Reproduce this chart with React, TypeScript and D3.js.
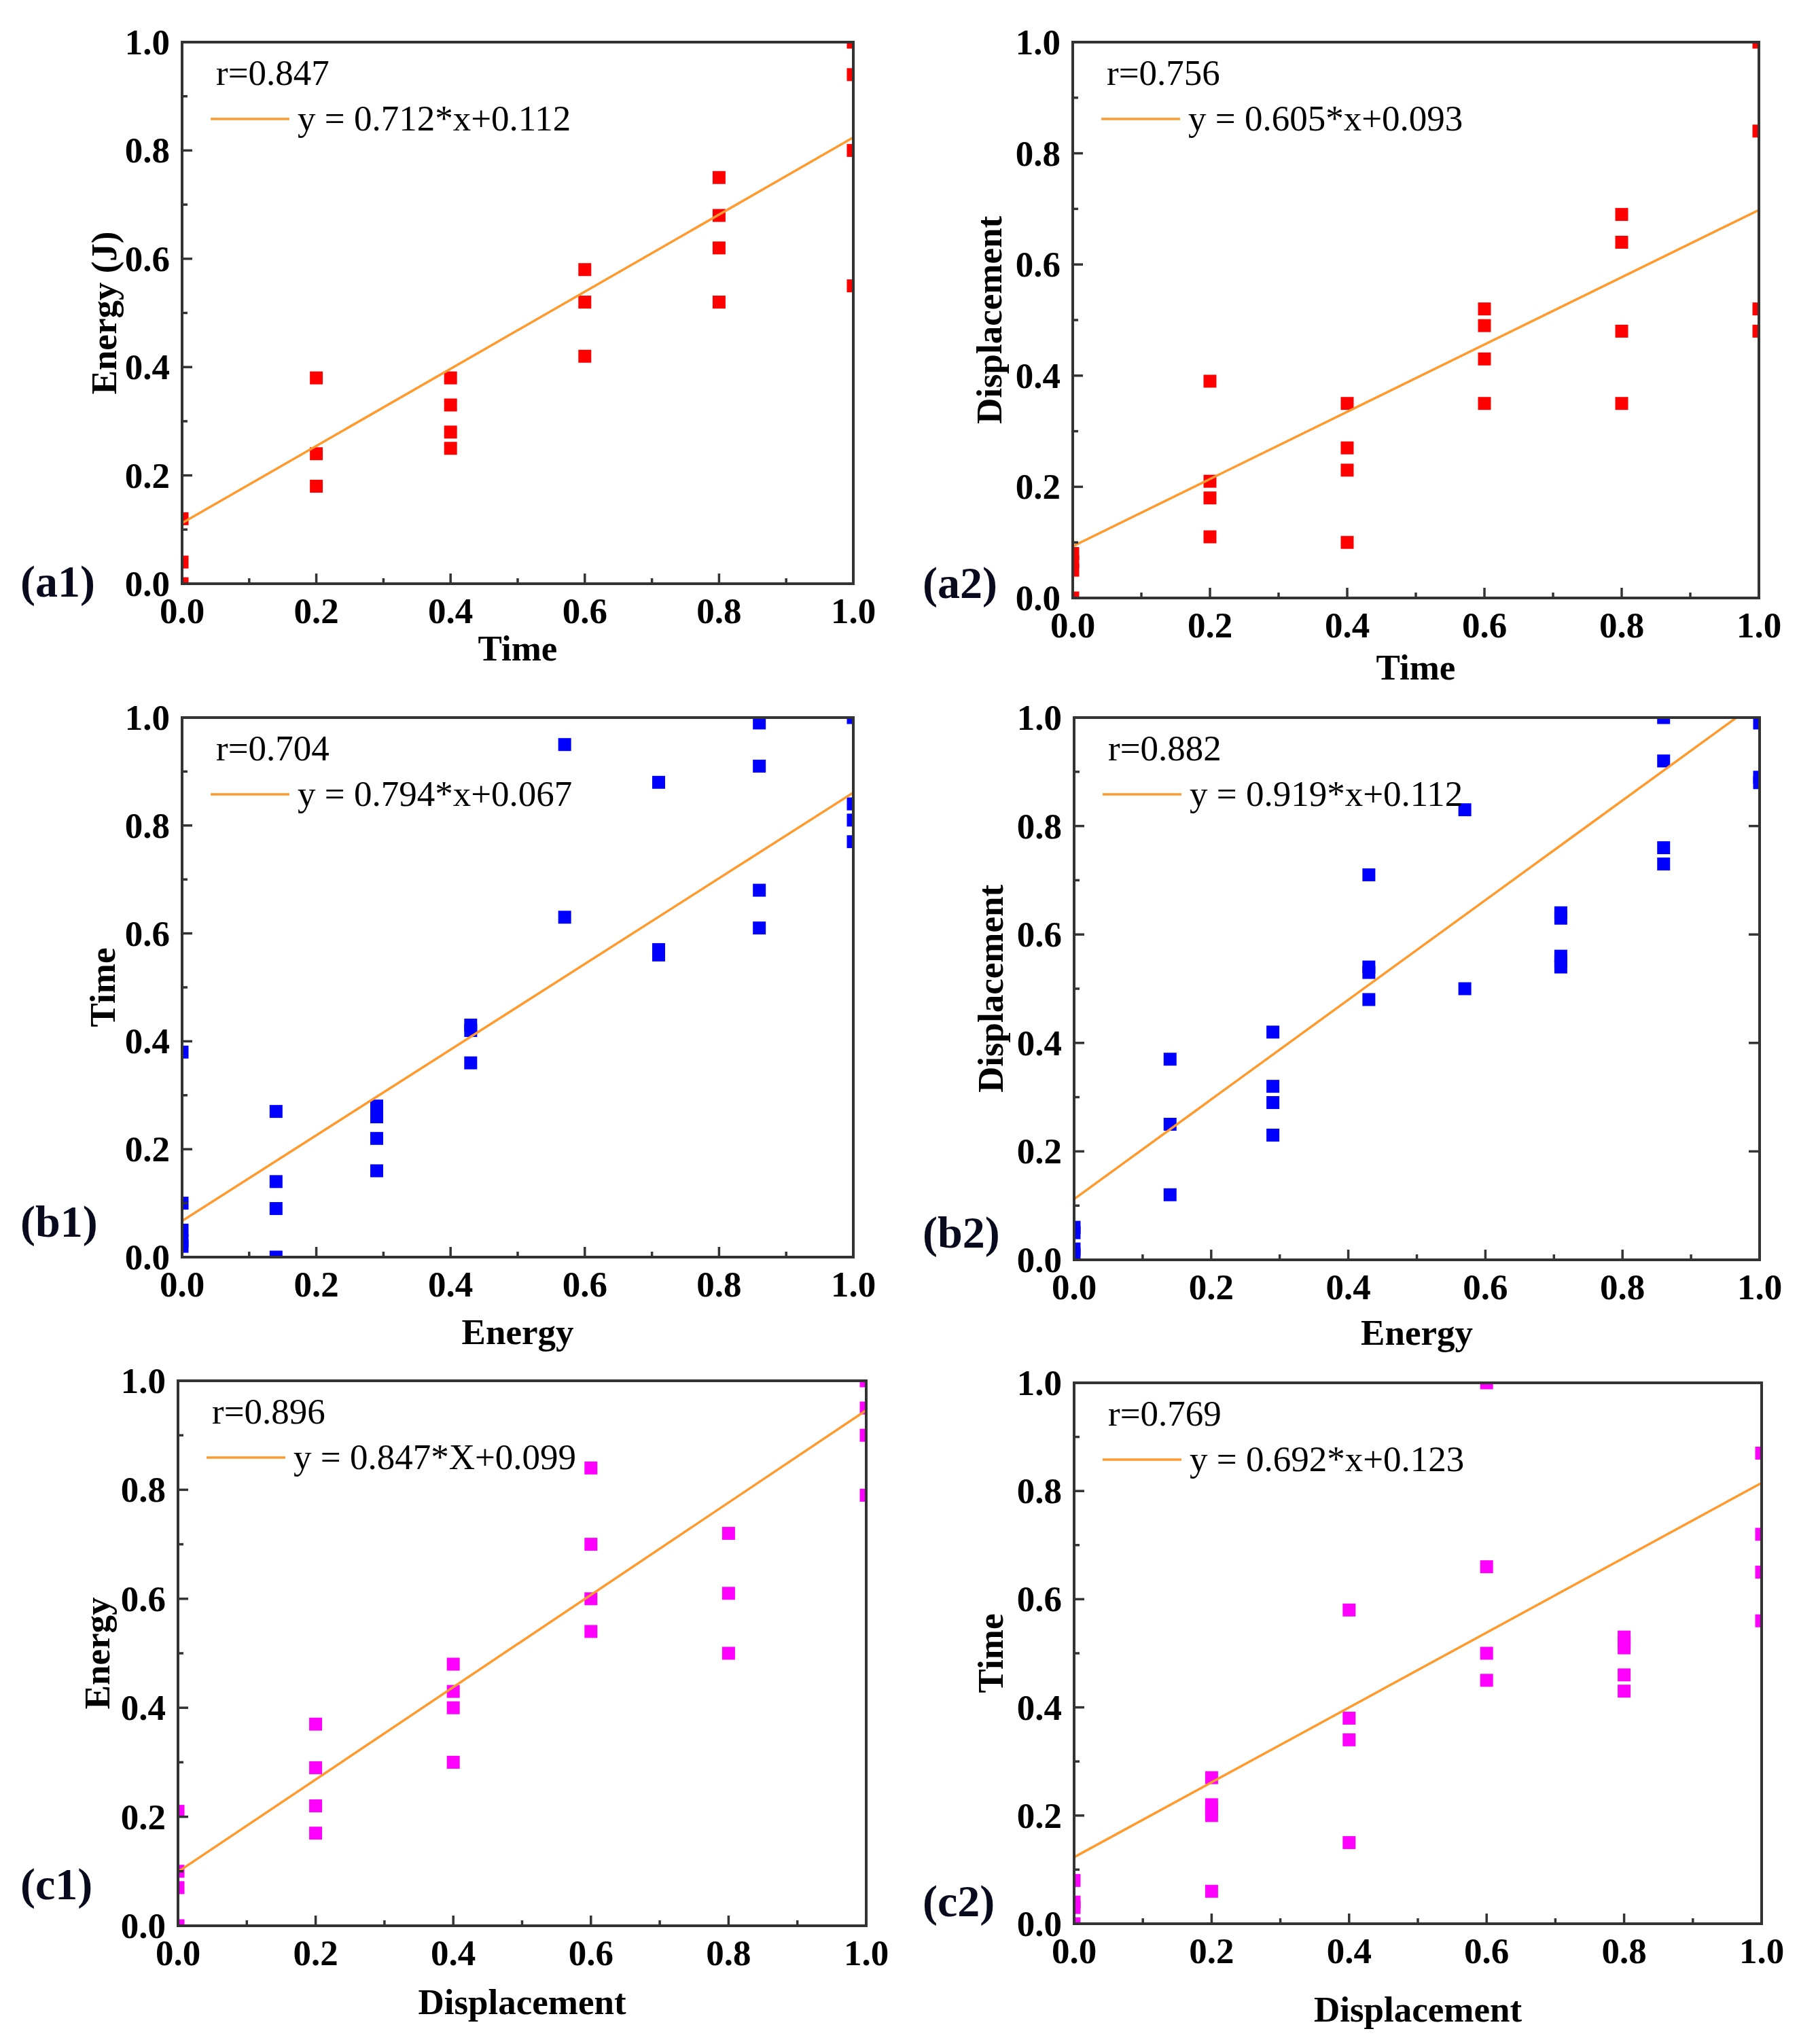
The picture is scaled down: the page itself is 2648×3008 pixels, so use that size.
import { useRef, useEffect } from 'react';
import * as d3 from 'd3';

// x levels and y values (normalised)
const a1X = [0, 0.2, 0.4, 0.6, 0.8, 1.0];
const a1Y = [[0.12, 0.04, 0.0], [0.38, 0.24, 0.18], [0.38, 0.33, 0.28, 0.25], [0.58, 0.52, 0.42], [0.75, 0.68, 0.62, 0.52], [1.0, 0.94, 0.80, 0.55]];

const a2X = [0, 0.2, 0.4, 0.6, 0.8, 1.0];
const a2Y = [[0.08, 0.065, 0.05, 0.0], [0.39, 0.21, 0.18, 0.11], [0.35, 0.27, 0.23, 0.10], [0.52, 0.49, 0.43, 0.35], [0.69, 0.64, 0.48, 0.35], [1.0, 0.84, 0.52, 0.48]];

const b1X = [0, 0.14, 0.29, 0.43, 0.57, 0.71, 0.86, 1.0];
const b1Y = [[0.38, 0.10, 0.05, 0.03, 0.02], [0.27, 0.14, 0.09, 0.0], [0.28, 0.27, 0.26, 0.22, 0.16], [0.43, 0.42, 0.36], [0.95, 0.63], [0.88, 0.57, 0.56], [0.99, 0.91, 0.68, 0.61], [1.0, 0.84, 0.81, 0.77]];

const b2X = [0, 0.14, 0.29, 0.43, 0.57, 0.71, 0.86, 1.0];
const b2Y = [[0.06, 0.05, 0.02, 0.01], [0.37, 0.25, 0.12], [0.42, 0.32, 0.29, 0.23], [0.71, 0.54, 0.53, 0.48], [0.83, 0.50], [0.64, 0.63, 0.56, 0.55, 0.54], [1.0, 0.92, 0.76, 0.73], [0.99, 0.89, 0.88]];

const c1X = [0, 0.2, 0.4, 0.6, 0.8, 1.0];
const c1Y = [[0.21, 0.10, 0.07, 0.0], [0.37, 0.29, 0.22, 0.17], [0.48, 0.43, 0.40, 0.30], [0.84, 0.70, 0.60, 0.54], [0.72, 0.61, 0.50], [1.0, 0.95, 0.90, 0.79]];

const c2X = [0, 0.2, 0.4, 0.6, 0.8, 1.0];
const c2Y = [[0.08, 0.04, 0.03, 0.0], [0.27, 0.22, 0.21, 0.20, 0.06], [0.58, 0.38, 0.34, 0.15], [1.0, 0.66, 0.50, 0.45], [0.53, 0.52, 0.51, 0.46, 0.43], [0.87, 0.72, 0.65, 0.56]];

// linear fits
const slopes = [0.712, 0.605, 0.794, 0.919, 0.847, 0.692];
const intercepts = [0.112, 0.093, 0.067, 0.112, 0.099, 0.123];
const rValues = ['r=0.847', 'r=0.756', 'r=0.704', 'r=0.882', 'r=0.896', 'r=0.769'];
const equations = ['y = 0.712*x+0.112', 'y = 0.605*x+0.093', 'y = 0.794*x+0.067', 'y = 0.919*x+0.112', 'y = 0.847*X+0.099', 'y = 0.692*x+0.123'];

const xTitles = ['Time', 'Time', 'Energy', 'Energy', 'Displacement', 'Displacement'];
const yTitles = ['Energy (J)', 'Displacement', 'Time', 'Displacement', 'Energy', 'Time'];
const panelLabels = ['(a1)', '(a2)', '(b1)', '(b2)', '(c1)', '(c2)'];
const tickValues = [0, 0.2, 0.4, 0.6, 0.8, 1.0];
const minorValues = [0.1, 0.3, 0.5, 0.7, 0.9];

const W = 2648;
const H = 3008;
const SERIF = '"Liberation Serif", "Times New Roman", serif';

// panel boxes in page pixels
const panels = [
    { xs: a1X, ys: a1Y, color: '#ff0000', left: 268, right: 1256, top: 62, bottom: 859, xt: 113, yt: 116, lab: [30, 878], rightTicks: false },
    { xs: a2X, ys: a2Y, color: '#ff0000', left: 1579, right: 2589, top: 62, bottom: 880, xt: 120, yt: 124, lab: [1358, 880], rightTicks: false },
    { xs: b1X, ys: b1Y, color: '#0000ff', left: 268, right: 1256, top: 1056, bottom: 1850, xt: 128, yt: 118, lab: [30, 1820], rightTicks: false },
    { xs: b2X, ys: b2Y, color: '#0000ff', left: 1581, right: 2590, top: 1056, bottom: 1854, xt: 125, yt: 124, lab: [1358, 1836], rightTicks: true },
    { xs: c1X, ys: c1Y, color: '#ff00ff', left: 262, right: 1275, top: 2032, bottom: 2834, xt: 130, yt: 120, lab: [30, 2795], rightTicks: false },
    { xs: c2X, ys: c2Y, color: '#ff00ff', left: 1581, right: 2593, top: 2035, bottom: 2831, xt: 144, yt: 124, lab: [1358, 2820], rightTicks: false },
];

export default function App() {
    const ref = useRef<SVGSVGElement>(null);

    useEffect(() => {
        if (!ref.current) return;
        const svg = d3.select(ref.current);
        svg.selectAll('*').remove();

        svg.append('rect').attr('width', W).attr('height', H).attr('fill', '#fff');

        const axisColor = '#333';
        const markerSize = 19;

        panels.forEach((p, i) => {
            const x = d3.scaleLinear().domain([0, 1]).range([p.left, p.right]);
            const y = d3.scaleLinear().domain([0, 1]).range([p.bottom, p.top]);
            const g = svg.append('g');

            const clipId = `clip-${i}`;
            svg.append('clipPath').attr('id', clipId)
                .append('rect')
                .attr('x', p.left).attr('y', p.top)
                .attr('width', p.right - p.left).attr('height', p.bottom - p.top);

            const inner = g.append('g').attr('clip-path', `url(#${clipId})`);

            // points
            p.xs.forEach((xv, k) => {
                p.ys[k].forEach((yv) => {
                    inner.append('rect')
                        .attr('x', x(xv) - markerSize / 2)
                        .attr('y', y(yv) - markerSize / 2)
                        .attr('width', markerSize)
                        .attr('height', markerSize)
                        .attr('fill', p.color);
                });
            });

            // fit line
            const fit = (v: number) => slopes[i] * v + intercepts[i];
            const line = d3.line<number>().x((v) => x(v)).y((v) => y(fit(v)));
            inner.append('path')
                .attr('d', line([0, 1]))
                .attr('fill', 'none')
                .attr('stroke', '#ff9a2e')
                .attr('stroke-width', 3.5);

            // frame
            g.append('rect')
                .attr('x', p.left).attr('y', p.top)
                .attr('width', p.right - p.left).attr('height', p.bottom - p.top)
                .attr('fill', 'none')
                .attr('stroke', axisColor)
                .attr('stroke-width', 4);

            // ticks (inward)
            tickValues.forEach((t) => {
                g.append('line').attr('x1', x(t)).attr('x2', x(t)).attr('y1', p.bottom).attr('y2', p.bottom - 15)
                    .attr('stroke', axisColor).attr('stroke-width', 3.5);
                g.append('line').attr('x1', p.left).attr('x2', p.left + 15).attr('y1', y(t)).attr('y2', y(t))
                    .attr('stroke', axisColor).attr('stroke-width', 3.5);
                if (p.rightTicks) {
                    g.append('line').attr('x1', p.right).attr('x2', p.right - 16).attr('y1', y(t)).attr('y2', y(t))
                        .attr('stroke', axisColor).attr('stroke-width', 3.5);
                }
            });
            minorValues.forEach((t) => {
                g.append('line').attr('x1', x(t)).attr('x2', x(t)).attr('y1', p.bottom).attr('y2', p.bottom - 8)
                    .attr('stroke', axisColor).attr('stroke-width', 3.5);
                g.append('line').attr('x1', p.left).attr('x2', p.left + 8).attr('y1', y(t)).attr('y2', y(t))
                    .attr('stroke', axisColor).attr('stroke-width', 3.5);
            });

            // tick labels
            tickValues.forEach((t) => {
                g.append('text')
                    .attr('x', x(t)).attr('y', p.bottom + 58)
                    .attr('text-anchor', 'middle')
                    .style('font-family', SERIF).style('font-size', '53px').style('font-weight', 'bold')
                    .text(d3.format('.1f')(t));
                g.append('text')
                    .attr('x', p.left - 18).attr('y', y(t)).attr('dy', '0.34em')
                    .attr('text-anchor', 'end')
                    .style('font-family', SERIF).style('font-size', '53px').style('font-weight', 'bold')
                    .text(d3.format('.1f')(t));
            });

            // axis titles
            g.append('text')
                .attr('x', (p.left + p.right) / 2).attr('y', p.bottom + p.xt)
                .attr('text-anchor', 'middle')
                .style('font-family', SERIF).style('font-size', '53px').style('font-weight', 'bold')
                .text(xTitles[i]);
            g.append('text')
                .attr('transform', `translate(${p.left - p.yt}, ${(p.top + p.bottom) / 2}) rotate(-90)`)
                .attr('dy', '0.35em')
                .attr('text-anchor', 'middle')
                .style('font-family', SERIF).style('font-size', '53px').style('font-weight', 'bold')
                .text(yTitles[i]);

            // legend
            g.append('text')
                .attr('x', p.left + 50).attr('y', p.top + 63)
                .style('font-family', SERIF).style('font-size', '53px')
                .text(rValues[i]);
            g.append('line')
                .attr('x1', p.left + 42).attr('x2', p.left + 158)
                .attr('y1', p.top + 113).attr('y2', p.top + 113)
                .attr('stroke', '#ff9a2e').attr('stroke-width', 3.5);
            g.append('text')
                .attr('x', p.left + 170).attr('y', p.top + 130)
                .style('font-family', SERIF).style('font-size', '53px')
                .text(equations[i]);

            // panel label
            g.append('text')
                .attr('x', p.lab[0]).attr('y', p.lab[1])
                .style('font-family', SERIF).style('font-size', '66px').style('font-weight', 'bold')
                .attr('fill', '#0a0a1e')
                .text(panelLabels[i]);
        });
    }, []);

    return (
        <svg ref={ref} width={W} height={H}
            style={{ position: 'absolute', left: 0, top: 0, display: 'block' }} />
    );
}
